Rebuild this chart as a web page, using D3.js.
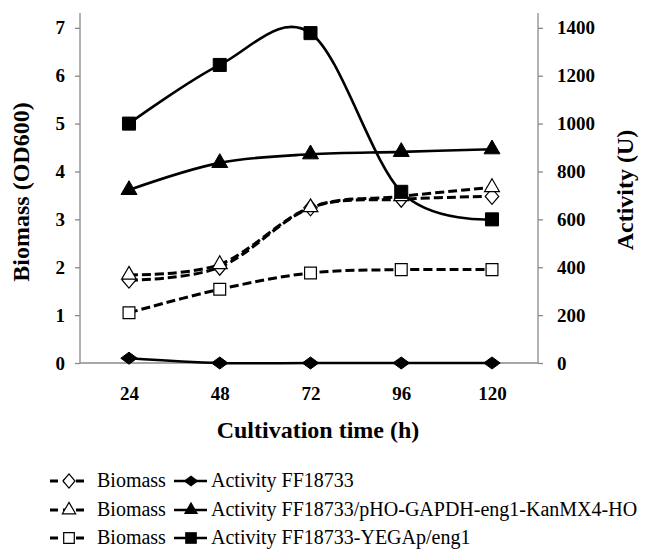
<!DOCTYPE html>
<html>
<head>
<meta charset="utf-8">
<script src="https://cdn.jsdelivr.net/npm/d3@7"></script>
<style>
  body { margin: 0; background: #fff; }
  svg { display: block; }
  svg text { font-family: "Liberation Serif", Tinos, "Times New Roman", Times, "DejaVu Serif", serif; fill: #000; }
</style>
</head>
<body>
<div id="chart"></div>
<script>
// cultivation time (h)
var hours = [24, 48, 72, 96, 120];

// biomass (OD600), dashed lines with open markers
var biomassFF = [1.73, 2.0, 3.24, 3.42, 3.48];
var biomassGAPDH = [1.84, 2.06, 3.25, 3.48, 3.67];
var biomassYEGA = [1.05, 1.54, 1.88, 1.95, 1.95];

// activity (U), solid lines with filled markers
var activityFF = [20, 0, 0, 0, 0];
var activityGAPDH = [723, 836, 872, 882, 893];
var activityYEGA = [1000, 1245, 1378, 715, 600];

var leftTicks = [0, 1, 2, 3, 4, 5, 6, 7];
var rightTicks = [0, 200, 400, 600, 800, 1000, 1200, 1400];
var strainNames = ["FF18733", "FF18733/pHO-GAPDH-eng1-KanMX4-HO", "FF18733-YEGAp/eng1"];

var FONT = '"Liberation Serif", Tinos, "Times New Roman", Times, "DejaVu Serif", serif';
var W = 655, H = 552;
var svg = d3.select("#chart").append("svg").attr("width", W).attr("height", H)
    .style("font-family", FONT);

var axisLeftX = 80, axisRightX = 538, axisBottomY = 363, axisTopY = 13;

var x = d3.scalePoint().domain(hours).range([129, 492]);
var yL = d3.scaleLinear().domain([0, 7.31]).range([axisBottomY, axisTopY]);
var yR = d3.scaleLinear().domain([0, 7.31 * 200]).range([axisBottomY, axisTopY]);

var grey = "#8a8a8a";

var gL = svg.append("g").attr("transform", "translate(" + axisLeftX + ",0)")
    .call(d3.axisLeft(yL).tickValues(leftTicks).tickFormat(d3.format("d")).tickSize(5).tickPadding(10));
var gR = svg.append("g").attr("transform", "translate(" + axisRightX + ",0)")
    .call(d3.axisRight(yR).tickValues(rightTicks).tickFormat(d3.format("d")).tickSize(5).tickPadding(14));
[gL, gR].forEach(function (g) {
    g.attr("font-family", null);
    g.select(".domain").remove();
    g.selectAll(".tick line").attr("stroke", grey).attr("stroke-width", 1.3);
    g.selectAll(".tick text")
        .style("font-family", FONT)
        .style("font-weight", "bold").style("font-size", "19px").attr("fill", "#000");
});
// vertical axis lines up to the top of the plot
svg.append("line").attr("x1", axisLeftX).attr("x2", axisLeftX).attr("y1", axisTopY).attr("y2", axisBottomY)
    .attr("stroke", grey).attr("stroke-width", 1.3);
svg.append("line").attr("x1", axisRightX).attr("x2", axisRightX).attr("y1", axisTopY).attr("y2", axisBottomY)
    .attr("stroke", grey).attr("stroke-width", 1.3);

var gB = svg.append("g").attr("transform", "translate(0," + axisBottomY + ")")
    .call(d3.axisBottom(x).tickSize(0).tickPadding(24));
gB.attr("font-family", null);
gB.select(".domain").remove();
gB.selectAll(".tick text")
    .style("font-family", FONT)
    .style("font-weight", "bold").style("font-size", "19px").attr("fill", "#000");
svg.append("line").attr("x1", axisLeftX).attr("x2", axisRightX)
    .attr("y1", axisBottomY).attr("y2", axisBottomY)
    .attr("stroke", grey).attr("stroke-width", 1.3);

// axis titles
svg.append("text").attr("x", 318).attr("y", 438).attr("text-anchor", "middle")
    .style("font-weight", "bold").style("font-size", "24px").text("Cultivation time (h)");
svg.append("text").attr("transform", "translate(29,192) rotate(-90)").attr("text-anchor", "middle")
    .style("font-weight", "bold").style("font-size", "24px").text("Biomass (OD600)");
svg.append("text").attr("transform", "translate(633,190) rotate(-90)").attr("text-anchor", "middle")
    .style("font-weight", "bold").style("font-size", "24px").text("Activity (U)");

// marker shapes
var wideDiamond = {
    draw: function (ctx, size) {
        var w = Math.sqrt(size) * 0.75, h = Math.sqrt(size) * 0.55;
        ctx.moveTo(-w, 0); ctx.lineTo(0, -h); ctx.lineTo(w, 0); ctx.lineTo(0, h); ctx.closePath();
    }
};
var openDiamond = {
    draw: function (ctx, size) {
        var w = Math.sqrt(size) * 0.55, h = Math.sqrt(size) * 0.65;
        ctx.moveTo(-w, 0); ctx.lineTo(0, -h); ctx.lineTo(w, 0); ctx.lineTo(0, h); ctx.closePath();
    }
};

var series = [
    { vals: biomassFF, scale: yL, dash: true, sym: openDiamond, size: 150, fill: "#fff" },
    { vals: biomassGAPDH, scale: yL, dash: true, sym: d3.symbolTriangle, size: 95, fill: "#fff" },
    { vals: biomassYEGA, scale: yL, dash: true, sym: d3.symbolSquare, size: 140, fill: "#fff" },
    { vals: activityFF, scale: yR, dash: false, sym: wideDiamond, size: 120, fill: "#000" },
    { vals: activityGAPDH, scale: yR, dash: false, sym: d3.symbolTriangle, size: 110, fill: "#000" },
    { vals: activityYEGA, scale: yR, dash: false, sym: d3.symbolSquare, size: 170, fill: "#000" }
];

var plot = svg.append("g");
series.forEach(function (s) {
    var line = d3.line()
        .x(function (d, i) { return x(hours[i]); })
        .y(function (d) { return s.scale(d); })
        .curve(d3.curveCardinal.tension(0));
    plot.append("path").datum(s.vals).attr("d", line)
        .attr("fill", "none").attr("stroke", "#000")
        .attr("stroke-width", s.dash ? 3 : 2.6)
        .attr("stroke-dasharray", s.dash ? "9,4" : null);
});
series.forEach(function (s) {
    plot.selectAll(null).data(s.vals).enter().append("path")
        .attr("transform", function (d, i) { return "translate(" + x(hours[i]) + "," + s.scale(d) + ")"; })
        .attr("d", d3.symbol().type(s.sym).size(s.size))
        .attr("fill", s.fill).attr("stroke", "#000").attr("stroke-width", s.fill === "#fff" ? 1.2 : 1);
});

// legend
var legendRows = [481, 510, 538];
strainNames.forEach(function (name, i) {
    var yy = legendRows[i];
    var g = svg.append("g");
    var open = series[i], filled = series[i + 3];
    g.append("line").attr("x1", 50).attr("x2", 88).attr("y1", yy).attr("y2", yy)
        .attr("stroke", "#000").attr("stroke-width", 3).attr("stroke-dasharray", "8,5");
    g.append("path").attr("transform", "translate(69," + yy + ")")
        .attr("d", d3.symbol().type(open.sym).size(open.size * 0.8))
        .attr("fill", "#fff").attr("stroke", "#000").attr("stroke-width", 1.2);
    g.append("text").attr("x", 97).attr("y", yy + 6).style("font-size", "20px").text("Biomass");
    g.append("line").attr("x1", 174).attr("x2", 207).attr("y1", yy).attr("y2", yy)
        .attr("stroke", "#000").attr("stroke-width", 2.6);
    g.append("path").attr("transform", "translate(191," + yy + ")")
        .attr("d", d3.symbol().type(filled.sym).size(filled.size * 0.8))
        .attr("fill", "#000");
    g.append("text").attr("x", 211).attr("y", yy + 6).style("font-size", "20px").text("Activity " + name);
});
</script>
</body>
</html>
